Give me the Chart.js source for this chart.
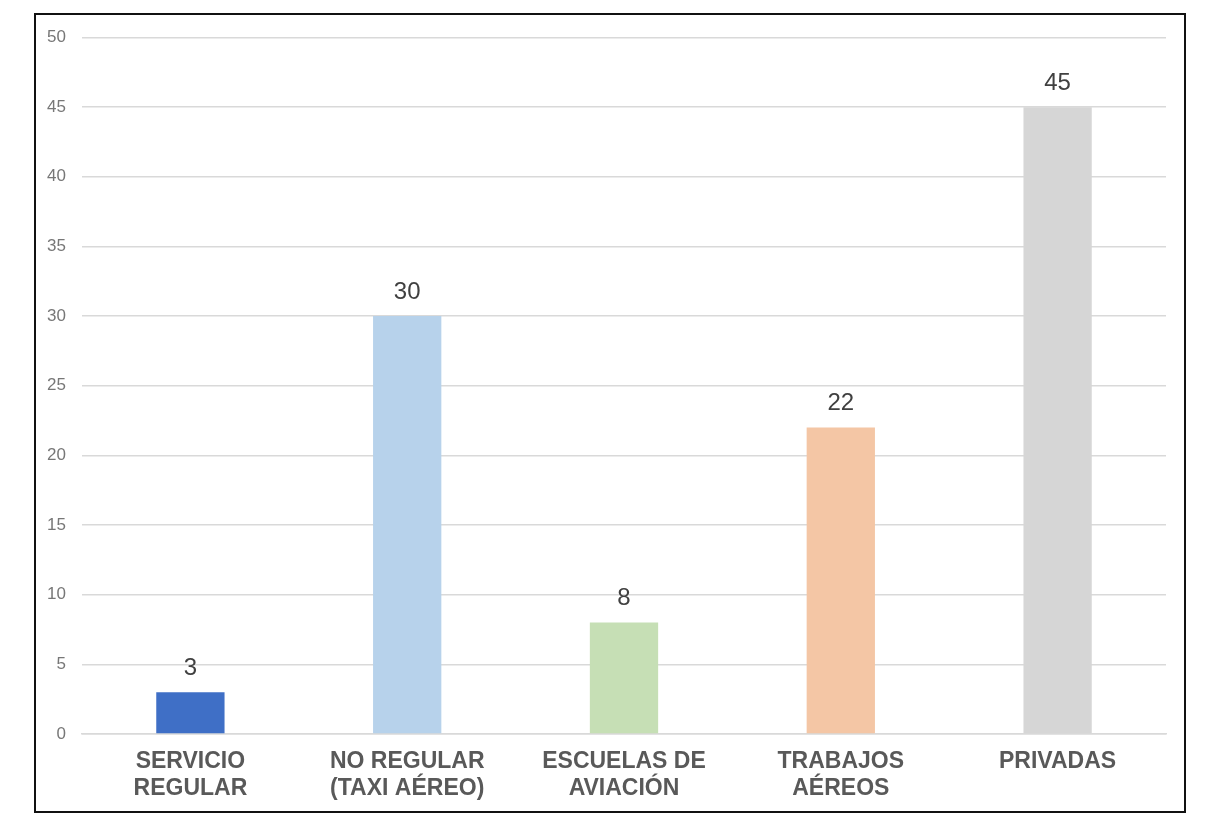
<!DOCTYPE html>
<html lang="es">
<head>
    <meta charset="UTF-8">
    <title>Aeronaves por tipo de operación</title>
    <style>
        body {
            margin: 0;
            background: #ffffff;
            font-family: "Liberation Sans", Arial, sans-serif;
        }
        .frame {
            position: absolute;
            left: 34px;
            top: 13px;
            width: 1148px;
            height: 796px;
            border: 2px solid #111;
            background: #fff;
        }
    </style>
    <script src="https://cdn.jsdelivr.net/npm/chart.js"></script>
</head>
<body>
    <div class="frame">
        <canvas id="barChart"></canvas>
    </div>

    <script>
        // Categories (two-line labels) and values
        const categories = [
            ['SERVICIO', 'REGULAR'],
            ['NO REGULAR', '(TAXI AÉREO)'],
            ['ESCUELAS DE', 'AVIACIÓN'],
            ['TRABAJOS', 'AÉREOS'],
            ['PRIVADAS']
        ];
        const values = [3, 30, 8, 22, 45];
        const barColors = ['#3F6FC6', '#B7D2EB', '#C6DFB5', '#F4C6A5', '#D6D6D6'];

        // Simple value labels above each bar
        const valueLabels = {
            id: 'valueLabels',
            afterDatasetsDraw(chart) {
                const ctx = chart.ctx;
                const meta = chart.getDatasetMeta(0);
                ctx.save();
                ctx.font = '24px "Liberation Sans", Arial, sans-serif';
                ctx.fillStyle = '#404040';
                ctx.textAlign = 'center';
                ctx.textBaseline = 'middle';
                meta.data.forEach((bar, i) => {
                    ctx.fillText(String(chart.data.datasets[0].data[i]), bar.x, bar.y - 24);
                });
                ctx.restore();
            }
        };

        const ctx = document.getElementById('barChart').getContext('2d');
        new Chart(ctx, {
            type: 'bar',
            data: {
                labels: categories,
                datasets: [{
                    data: values,
                    backgroundColor: barColors,
                    borderWidth: 0,
                    barPercentage: 0.63,
                    categoryPercentage: 0.5
                }]
            },
            options: {
                responsive: true,
                maintainAspectRatio: false,
                animation: false,
                layout: { padding: { top: 22.5, right: 18, bottom: 0, left: 0 } },
                plugins: {
                    legend: { display: false },
                    tooltip: { enabled: false }
                },
                scales: {
                    x: {
                        afterFit(scale) { scale.height = 77; },
                        grid: { display: false },
                        border: { color: '#d9d9d9', width: 1.5 },
                        ticks: {
                            color: '#595959',
                            padding: 6,
                            maxRotation: 0,
                            font: { family: '"Liberation Sans", Arial, sans-serif', size: 23, weight: 'bold', lineHeight: 1.17 }
                        }
                    },
                    y: {
                        min: 0,
                        max: 50,
                        afterFit(scale) {
                            scale.width = 46;
                            scale.paddingTop = 0;
                            scale.paddingBottom = 0;
                        },
                        grid: { color: '#d9d9d9', lineWidth: 1.5, drawTicks: false },
                        border: { display: false },
                        ticks: {
                            stepSize: 5,
                            color: '#777777',
                            padding: 16,
                            font: { family: '"Liberation Sans", Arial, sans-serif', size: 17 }
                        }
                    }
                }
            },
            plugins: [valueLabels]
        });
    </script>
</body>
</html>
